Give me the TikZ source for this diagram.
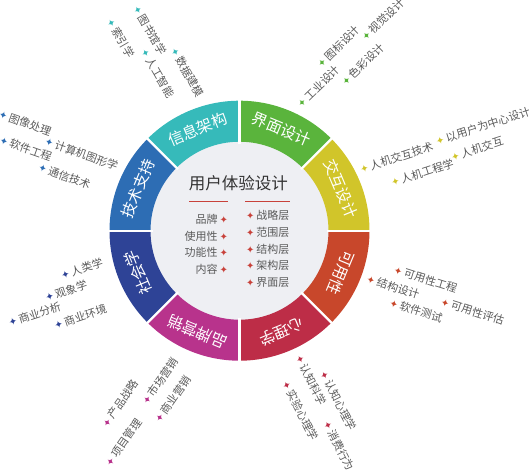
\documentclass[tikz,border=0pt]{standalone}
\usepackage{fontspec}
\setmainfont{Noto Sans CJK SC}
\newfontfamily\symfont{DejaVu Sans}
\usetikzlibrary{calc}
\definecolor{cGreen}{HTML}{5AB43C}
\definecolor{cYellow}{HTML}{D1C52A}
\definecolor{cOrange}{HTML}{C8472B}
\definecolor{cCrimson}{HTML}{BD2D47}
\definecolor{cMagenta}{HTML}{B8338C}
\definecolor{cNavy}{HTML}{2E4396}
\definecolor{cBlue}{HTML}{2D6DB4}
\definecolor{cTeal}{HTML}{36BABA}
\definecolor{cInner}{HTML}{EEEFF3}
\definecolor{cTitle}{HTML}{333333}
\definecolor{cText}{HTML}{5A5A5A}
\definecolor{cRed}{HTML}{C8413A}
\newcommand{\bul}[1]{{\symfont\fontsize{10}{10}\selectfont\textcolor{#1}{✦}}}
\newcommand{\sector}[3]{\fill[#1] (#2:89) arc[start angle=#2, end angle=#3, radius=89] -- (#3:130) arc[start angle=#3, end angle=#2, radius=130] -- cycle;}
\tikzset{
  segtext/.style={text=white, font=\fontsize{15.5}{16}\selectfont, inner sep=0pt},
  lbl/.style={text=cText, font=\fontsize{11}{12}\selectfont, inner sep=0pt, anchor=west},
  inlist/.style={text=cText, font=\fontsize{11}{12}\selectfont, inner sep=0pt},
  titletext/.style={text=cTitle, font=\fontsize{16.5}{18}\selectfont, inner sep=0pt},
  redline/.style={draw=cRed, line width=1.3pt},
  sepline/.style={draw=white, line width=2.2pt}
}
\newcommand{\olab}[6]{\node[lbl, rotate=#4] (#1) at (#2,#3) {\hspace*{-4.2pt}\bul{#5}\hspace{2pt}#6};}
\begin{document}
\begin{tikzpicture}[x=1pt, y=-1pt]
\useasboundingbox (0,0) rectangle (529,472);
\begin{scope}[shift={(239.5,230.7)}, y=1pt]
  \fill[cInner] (0,0) circle[radius=90];
  \sector{cGreen}{45}{90}
  \sector{cYellow}{0}{45}
  \sector{cOrange}{-45}{0}
  \sector{cCrimson}{-90}{-45}
  \sector{cMagenta}{-135}{-90}
  \sector{cNavy}{-180}{-135}
  \sector{cBlue}{135}{180}
  \sector{cTeal}{90}{135}
  \foreach \a in {0,45,...,315} \draw[sepline] (\a:87) -- (\a:132);
  \node[segtext, rotate=-22.5] (sJM) at (67.5:110) {界面设计};
  \node[segtext, rotate=-67.5] (sJH) at (22.5:110) {交互设计};
  \node[segtext, rotate=-112.5] (sKY) at (-22.5:110) {可用性};
  \node[segtext, rotate=-157.5] (sXL) at (-67.5:110) {心理学};
  \node[segtext, rotate=157.5] (sPP) at (-112.5:110) {品牌营销};
  \node[segtext, rotate=112.5] (sSH) at (-157.5:110) {社会学};
  \node[segtext, rotate=67.5] (sJS) at (157.5:110) {技术支持};
  \node[segtext, rotate=22.5] (sXX) at (112.5:110) {信息架构};
\end{scope}
% centre
\node[titletext] (title) at (238.3,183.3) {用户体验设计};
\coordinate (la) at (189,201.7); \coordinate (lb) at (228,201.7);
\coordinate (ra) at (245,201.7); \coordinate (rb) at (290,201.7);
\draw[redline] (la) -- (lb);
\draw[redline] (ra) -- (rb);
\node[inlist, anchor=east] (p1) at (224,219.3) {品牌\hspace{2pt}\bul{cRed}\hspace*{-4.2pt}};
\node[inlist, anchor=east] (p2) at (224,236) {使用性\hspace{2pt}\bul{cRed}\hspace*{-4.2pt}};
\node[inlist, anchor=east] (p3) at (224,252.7) {功能性\hspace{2pt}\bul{cRed}\hspace*{-4.2pt}};
\node[inlist, anchor=east] (p4) at (224,269.3) {内容\hspace{2pt}\bul{cRed}\hspace*{-4.2pt}};
\node[inlist, anchor=west] (q1) at (250,215.7) {\hspace*{-4.2pt}\bul{cRed}\hspace{2pt}战略层};
\node[inlist, anchor=west] (q2) at (250,232.7) {\hspace*{-4.2pt}\bul{cRed}\hspace{2pt}范围层};
\node[inlist, anchor=west] (q3) at (250,249.3) {\hspace*{-4.2pt}\bul{cRed}\hspace{2pt}结构层};
\node[inlist, anchor=west] (q4) at (250,265.7) {\hspace*{-4.2pt}\bul{cRed}\hspace{2pt}架构层};
\node[inlist, anchor=west] (q5) at (250,282.3) {\hspace*{-4.2pt}\bul{cRed}\hspace{2pt}界面层};
% green
\olab{g1}{301.7}{102.7}{44}{cGreen}{工业设计}
\olab{g2}{321.7}{62.7}{44}{cGreen}{图标设计}
\olab{g3}{366}{36}{44}{cGreen}{视觉设计}
\olab{g4}{346}{80.7}{44}{cGreen}{色彩设计}
% yellow
\olab{y1}{364}{168.3}{18}{cYellow}{人机交互技术}
\olab{y2}{440}{140}{18}{cYellow}{以用户为中心设计}
\olab{y3}{395}{181.7}{18}{cYellow}{人机工程学}
\olab{y4}{455}{156}{18}{cYellow}{人机交互}
% orange
\olab{o1}{398.3}{270.7}{-17.5}{cOrange}{可用性工程}
\olab{o2}{371}{280}{-17.5}{cOrange}{结构设计}
\olab{o3}{394}{303.3}{-17.5}{cOrange}{软件测试}
\olab{o4}{445.3}{302.7}{-17.5}{cOrange}{可用性评估}
% crimson
\olab{c1}{300.7}{359.3}{-63}{cCrimson}{认知科学}
\olab{c2}{325}{375}{-63}{cCrimson}{认知心理学}
\olab{c3}{287.3}{385}{-63}{cCrimson}{实验心理学}
\olab{c4}{328.3}{425}{-63}{cCrimson}{消费行为}
% magenta
\olab{m1}{106.7}{422.7}{55}{cMagenta}{产品战略}
\olab{m2}{146.7}{400}{55}{cMagenta}{市场营销}
\olab{m3}{110}{461.7}{55}{cMagenta}{项目管理}
\olab{m4}{159.3}{418.3}{55}{cMagenta}{商业营销}
% navy
\olab{n1}{65}{274}{18}{cNavy}{人类学}
\olab{n2}{49.3}{296.7}{18}{cNavy}{观象学}
\olab{n3}{12.7}{321.7}{18}{cNavy}{商业分析}
\olab{n4}{58.3}{324}{18}{cNavy}{商业环境}
% blue
\olab{b1}{3.3}{115}{-19.5}{cBlue}{图像处理}
\olab{b2}{4}{140.7}{-19.5}{cBlue}{软件工程}
\olab{b3}{49.3}{142.3}{-19.5}{cBlue}{计算机图形学}
\olab{b4}{42.7}{168.3}{-19.5}{cBlue}{通信技术}
% teal
\olab{t1}{111.7}{22.7}{-60}{cTeal}{索引学}
\olab{t2}{138.3}{10}{-60}{cTeal}{图书馆学}
\olab{t3}{146}{53.3}{-60}{cTeal}{人工智能}
\olab{t4}{175.7}{52.3}{-60}{cTeal}{数据建模}
\end{tikzpicture}
\end{document}
